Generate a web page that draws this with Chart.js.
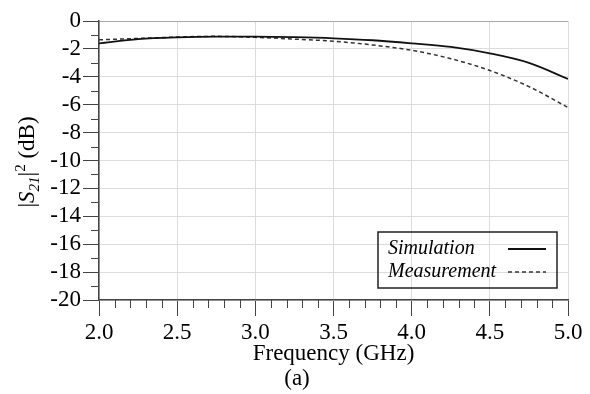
<!DOCTYPE html>
<html>
<head>
<meta charset="utf-8">
<script src="https://cdn.jsdelivr.net/npm/chart.js@4/dist/chart.umd.min.js"></script>
<style>
  html, body { margin: 0; padding: 0; background: #fff; }
  #c { display: block; }
</style>
</head>
<body>
<canvas id="c" width="590" height="394"></canvas>
<script>
(function () {
  // values
  const freqs = [2.0, 2.25, 2.5, 2.75, 3.0, 3.25, 3.5, 3.75, 4.0, 4.25, 4.5, 4.75, 5.0];
  const simulation = [-1.6, -1.3, -1.17, -1.12, -1.12, -1.16, -1.24, -1.38, -1.6, -1.86, -2.32, -3.0, -4.15];
  const measurement = [-1.35, -1.25, -1.15, -1.1, -1.17, -1.3, -1.45, -1.72, -2.1, -2.7, -3.55, -4.7, -6.2];
  const seriesNames = ['Simulation', 'Measurement'];
  const xTitle = 'Frequency (GHz)';
  const caption = '(a)';

  const serif = '"Liberation Serif", "Times New Roman", serif';
  const pts = (ys) => freqs.map((f, i) => ({x: f, y: ys[i]}));

  // minor ticks, axis titles and the boxed legend
  const extras = {
    id: 'extras',
    afterDraw(chart) {
      const ctx = chart.ctx;
      const xs = chart.scales.x, ys = chart.scales.y;
      const a = chart.chartArea;
      ctx.save();
      ctx.strokeStyle = '#444';
      ctx.lineWidth = 1;
      ctx.beginPath();
      for (let i = 1; i < 30; i++) {
        if (i % 5 === 0) continue;
        const px = Math.round(xs.getPixelForValue(2 + i / 10)) + 0.5;
        ctx.moveTo(px, a.bottom);
        ctx.lineTo(px, a.bottom + 8);
      }
      for (let v = -1; v > -20; v -= 2) {
        const py = Math.round(ys.getPixelForValue(v)) + 0.5;
        ctx.moveTo(a.left - 8, py);
        ctx.lineTo(a.left, py);
      }
      ctx.stroke();

      // x title and caption
      ctx.fillStyle = '#000';
      ctx.textAlign = 'center';
      ctx.textBaseline = 'middle';
      ctx.font = '23px ' + serif;
      ctx.fillText(xTitle, (a.left + a.right) / 2, 354);
      ctx.fillText(caption, 297, 379);

      // y title: |S21|^2 (dB)
      const parts = [
        {t: '|', f: '23px ' + serif, dy: 0},
        {t: 'S', f: 'italic 23px ' + serif, dy: 0},
        {t: '21', f: 'italic 15px ' + serif, dy: 5},
        {t: '|', f: '23px ' + serif, dy: 0},
        {t: '2', f: '15px ' + serif, dy: -9},
        {t: ' (dB)', f: '23px ' + serif, dy: 0}
      ];
      let total = 0;
      parts.forEach(p => { ctx.font = p.f; p.w = ctx.measureText(p.t).width; total += p.w; });
      ctx.translate(27, 162);
      ctx.rotate(-Math.PI / 2);
      ctx.textAlign = 'left';
      ctx.textBaseline = 'alphabetic';
      let cx = -total / 2;
      parts.forEach(p => { ctx.font = p.f; ctx.fillText(p.t, cx, 7 + p.dy); cx += p.w; });
      ctx.setTransform(1, 0, 0, 1, 0, 0);

      // legend box
      const bx = 378, by = 232, bw = 179, bh = 56;
      ctx.strokeStyle = '#222';
      ctx.lineWidth = 1.5;
      ctx.strokeRect(bx, by, bw, bh);
      ctx.font = 'italic 20px ' + serif;
      ctx.textBaseline = 'middle';
      chart.data.datasets.forEach((ds, i) => {
        const ly = by + 17 + i * 23;
        ctx.fillStyle = '#000';
        ctx.fillText(ds.label, bx + 10, ly);
        ctx.strokeStyle = ds.borderColor;
        ctx.lineWidth = ds.borderWidth;
        ctx.setLineDash(ds.borderDash || []);
        ctx.beginPath();
        ctx.moveTo(508, ly);
        ctx.lineTo(546, ly);
        ctx.stroke();
        ctx.setLineDash([]);
      });
      ctx.restore();
    }
  };

  new Chart(document.getElementById('c'), {
    type: 'line',
    data: {
      datasets: [
        {label: seriesNames[0], data: pts(simulation), borderColor: '#111', borderWidth: 1.8,
         pointRadius: 0, cubicInterpolationMode: 'monotone', fill: false},
        {label: seriesNames[1], data: pts(measurement), borderColor: '#333', borderWidth: 1.5,
         borderDash: [4, 3], pointRadius: 0, cubicInterpolationMode: 'monotone', fill: false}
      ]
    },
    options: {
      responsive: false,
      animation: false,
      devicePixelRatio: 1,
      layout: {padding: {top: 21, right: 22, left: 0, bottom: 0}},
      plugins: {legend: {display: false}, tooltip: {enabled: false}},
      scales: {
        x: {
          type: 'linear', min: 2, max: 5,
          afterFit: s => { s.height = 94; },
          ticks: {stepSize: 0.5, callback: v => v.toFixed(1), color: '#000', autoSkip: false,
                  font: {family: serif, size: 23}, padding: 3, maxRotation: 0},
          grid: {color: '#dcdcdc', tickColor: '#444', tickLength: 16, lineWidth: 1},
          border: {color: '#444', width: 1.5}
        },
        y: {
          min: -20, max: 0,
          afterFit: s => { s.width = 99; },
          ticks: {stepSize: 2, color: '#000', autoSkip: false, font: {family: serif, size: 23}, padding: 2,
                  callback: v => String(v)},
          grid: {color: ctx => ctx.tick && ctx.tick.value === 0 ? '#aaa' : '#dcdcdc',
                 tickColor: '#444', tickLength: 16, lineWidth: 1},
          border: {color: '#444', width: 1.5}
        }
      }
    },
    plugins: [extras]
  });
})();
</script>
</body>
</html>
